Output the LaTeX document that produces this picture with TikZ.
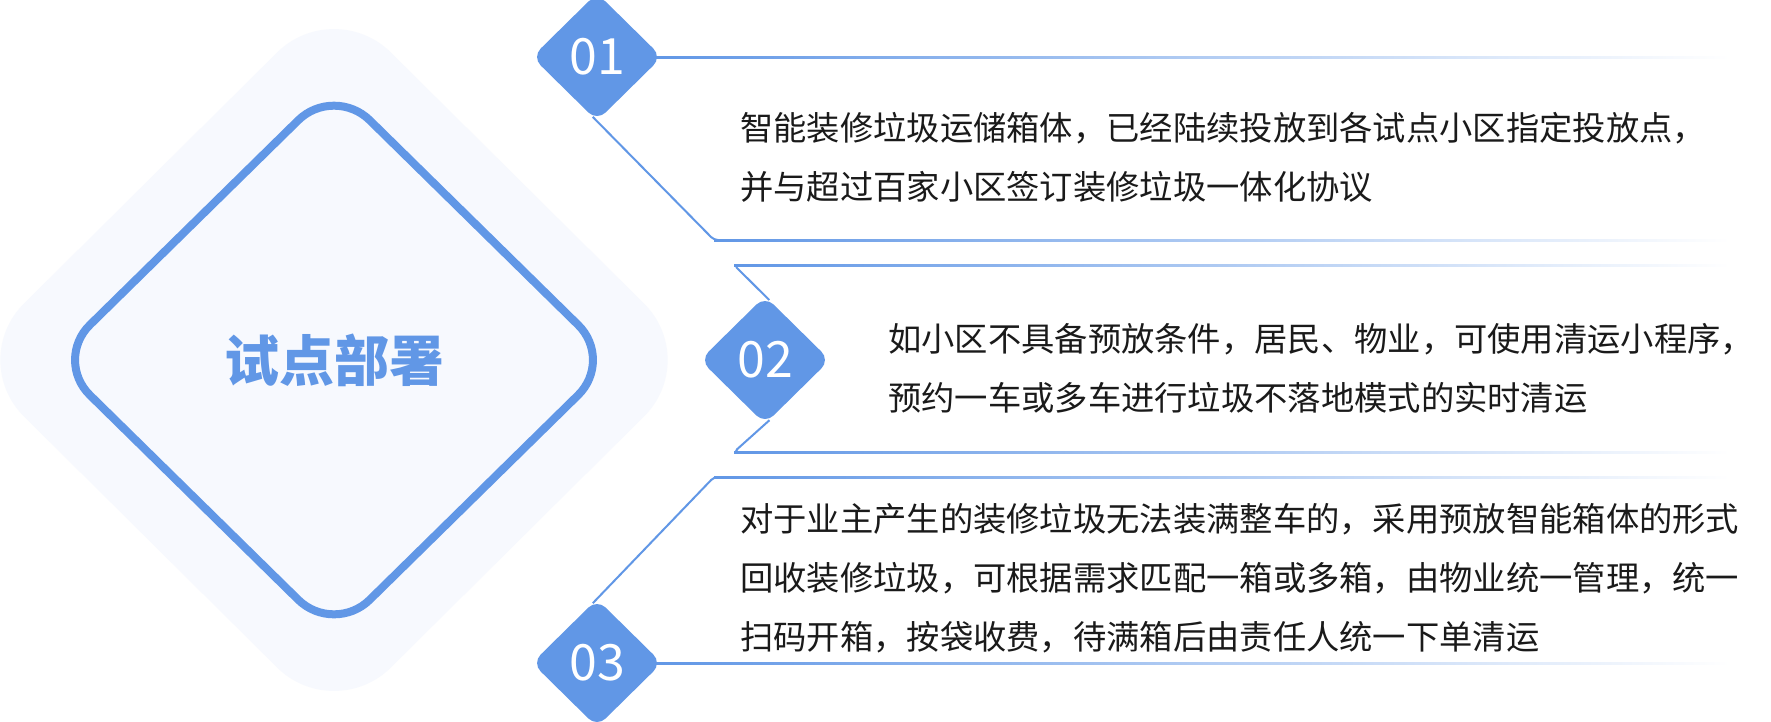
\documentclass[tikz,border=0pt]{standalone}
\usepackage{fontspec}
\setmainfont{Noto Sans CJK SC}
\usetikzlibrary{shapes.geometric}

\definecolor{mainblue}{HTML}{6197E6}
\definecolor{lightbg}{HTML}{F7F9FE}
\definecolor{textdark}{HTML}{1A1A1A}

\begin{document}
\begin{tikzpicture}[
    x=1pt, y=-1pt,
    back/.style={
        diamond,
        fill=lightbg,
        minimum width=734pt,
        minimum height=728pt,
        inner sep=0pt,
        rounded corners=80pt
    },
    frame/.style={
        diamond,
        draw=mainblue,
        line width=8pt,
        fill=lightbg,
        minimum width=563pt,
        minimum height=553pt,
        inner sep=0pt,
        rounded corners=50pt,
        text=mainblue,
        font=\fontsize{55}{60}\selectfont\bfseries
    },
    badge/.style={
        diamond,
        fill=mainblue,
        minimum width=130pt,
        minimum height=128pt,
        inner sep=0pt,
        rounded corners=12pt,
        text=white,
        font=\fontsize{50}{52}\selectfont
    },
    link/.style={
        draw=mainblue,
        line width=2pt,
        rounded corners=4pt,
        shorten <=-6pt
    },
    fade/.style={
        left color=mainblue,
        right color=white
    },
    info/.style={
        anchor=north west,
        align=left,
        inner sep=0pt,
        text=textdark,
        font=\fontsize{33.3}{59}\selectfont
    },
]
    \useasboundingbox (0,0) rectangle (1771,721);
    \fill[white] (0,0) rectangle (1771,721);

    \node (back) [back] at (334,360) {};
    \node (core) [frame] at (334,360) {试点部署};

    \node (b1) [badge] at (597,57) {01};
    \node (b2) [badge] at (765,360) {02};
    \node (b3) [badge] at (597,663) {03};

    % corners and ends of the bands
    \coordinate (c1) at (714,240);
    \coordinate (c2t) at (734,265);
    \coordinate (c2b) at (734,452);
    \coordinate (c3) at (714,477);
    \coordinate (e1t) at (1730,57);
    \coordinate (e1b) at (1730,240);
    \coordinate (e2t) at (1730,265);
    \coordinate (e2b) at (1730,452);
    \coordinate (e3t) at (1730,477);
    \coordinate (e3b) at (1730,663);

    \draw[link] (b1.south) -- (c1) -- ++(12,0);
    \draw[link] (b2.north) -- (c2t) -- ++(12,0);
    \draw[link] (b2.south) -- (c2b) -- ++(12,0);
    \draw[link] (b3.north) -- (c3) -- ++(12,0);

    \shade[fade] ([xshift=-8pt,yshift=1pt]b1.east) rectangle ([yshift=-1pt]e1t);
    \shade[fade] ([yshift=1pt]c1) rectangle ([yshift=-1pt]e1b);
    \shade[fade] ([yshift=1pt]c2t) rectangle ([yshift=-1pt]e2t);
    \shade[fade] ([yshift=1pt]c2b) rectangle ([yshift=-1pt]e2b);
    \shade[fade] ([yshift=1pt]c3) rectangle ([yshift=-1pt]e3t);
    \shade[fade] ([xshift=-8pt,yshift=1pt]b3.east) rectangle ([yshift=-1pt]e3b);

    \node (t1) [info] at (740,112) {智能装修垃圾运储箱体，已经陆续投放到各试点小区指定投放点，\\并与超过百家小区签订装修垃圾一体化协议};
    \node (t2) [info] at (888,323) {如小区不具备预放条件，居民、物业，可使用清运小程序，\\预约一车或多车进行垃圾不落地模式的实时清运};
    \node (t3) [info] at (740,503) {对于业主产生的装修垃圾无法装满整车的，采用预放智能箱体的形式\\回收装修垃圾，可根据需求匹配一箱或多箱，由物业统一管理，统一\\扫码开箱，按袋收费，待满箱后由责任人统一下单清运};
\end{tikzpicture}
\end{document}
